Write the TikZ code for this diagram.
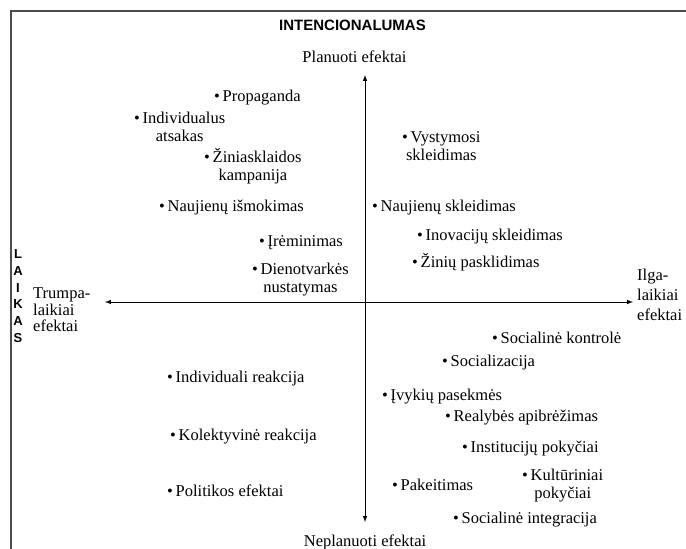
\documentclass[tikz,border=0pt]{standalone}
\usepackage{fontspec}
\setmainfont{Liberation Serif}
\setsansfont{Liberation Sans}
\usepackage{tikz}

\begin{document}
\begin{tikzpicture}[x=1pt, y=-1pt,
  item/.style={anchor=west, inner sep=0pt, align=center, font=\fontsize{16.5}{18}\selectfont},
  axislabel/.style={inner sep=0pt, font=\fontsize{16.5}{18}\selectfont}]
\useasboundingbox (0,0) rectangle (686,549);
\draw[line width=2pt, black!70] (686,11) -- (11,11) -- (11,549);
% titles
\node[inner sep=0pt, font=\sffamily\bfseries\fontsize{15}{16}\selectfont] (node_title) at (352.5,25) {INTENCIONALUMAS};
\node[inner sep=0pt, align=center, font=\sffamily\bfseries\fontsize{13}{16.8}\selectfont] (node_laikas) at (18,296) {L\\A\\I\\K\\A\\S};
\node[axislabel] (node_planuoti) at (354.5,57) {Planuoti efektai};
\node[axislabel] (node_neplanuoti) at (365,542) {Neplanuoti efektai};
\node[axislabel, anchor=west, align=left, font=\fontsize{16.5}{16.5}\selectfont] (node_trumpa) at (33,310) {Trumpa-\\laikiai\\efektai};
\node[axislabel, anchor=west, align=left, font=\fontsize{16.5}{20}\selectfont] (node_ilga) at (637,295) {Ilga-\\laikiai\\efektai};
% axes
\coordinate (axis_top) at (365,75);
\coordinate (axis_bottom) at (365,522);
\coordinate (axis_left) at (105,302);
\coordinate (axis_right) at (633,302);
\draw[<->, >=latex, line width=1pt] (axis_top) -- (axis_bottom);
\draw[<->, >=latex, line width=1pt] (axis_left) -- (axis_right);
% upper left
\node[item] (node_propaganda) at (214,98) {\textbullet\,Propaganda};
\node[item] (node_individualus) at (134,127) {\textbullet\,Individualus\\atsakas};
\node[item] (node_ziniasklaidos) at (204,166) {\textbullet\,Žiniasklaidos\\kampanija};
\node[item] (node_ismokimas) at (159,208) {\textbullet\,Naujienų išmokimas};
\node[item] (node_ireminimas) at (259,243) {\textbullet\,Įrėminimas};
\node[item] (node_dienotvarkes) at (252,280) {\textbullet\,Dienotvarkės\\nustatymas};
% upper right
\node[item] (node_vystymosi) at (402,146) {\textbullet\,Vystymosi\\skleidimas};
\node[item] (node_naujienu) at (372,208) {\textbullet\,Naujienų skleidimas};
\node[item] (node_inovaciju) at (417,237) {\textbullet\,Inovacijų skleidimas};
\node[item] (node_ziniu) at (412,262) {\textbullet\,Žinių pasklidimas};
% lower right
\node[item] (node_kontrole) at (492,338) {\textbullet\,Socialinė kontrolė};
\node[item] (node_socializacija) at (442,363) {\textbullet\,Socializacija};
\node[item] (node_ivykiu) at (382,397) {\textbullet\,Įvykių pasekmės};
\node[item] (node_realybes) at (445,418) {\textbullet\,Realybės apibrėžimas};
\node[item] (node_instituciju) at (462,449) {\textbullet\,Institucijų pokyčiai};
\node[item] (node_pakeitimas) at (392,485) {\textbullet\,Pakeitimas};
\node[item] (node_kulturiniai) at (522,486) {\textbullet\,Kultūriniai\\pokyčiai};
\node[item] (node_integracija) at (453,520) {\textbullet\,Socialinė integracija};
% lower left
\node[item] (node_individuali) at (167,379) {\textbullet\,Individuali reakcija};
\node[item] (node_kolektyvine) at (170,437) {\textbullet\,Kolektyvinė reakcija};
\node[item] (node_politikos) at (167,491) {\textbullet\,Politikos efektai};

\end{tikzpicture}
\end{document}
